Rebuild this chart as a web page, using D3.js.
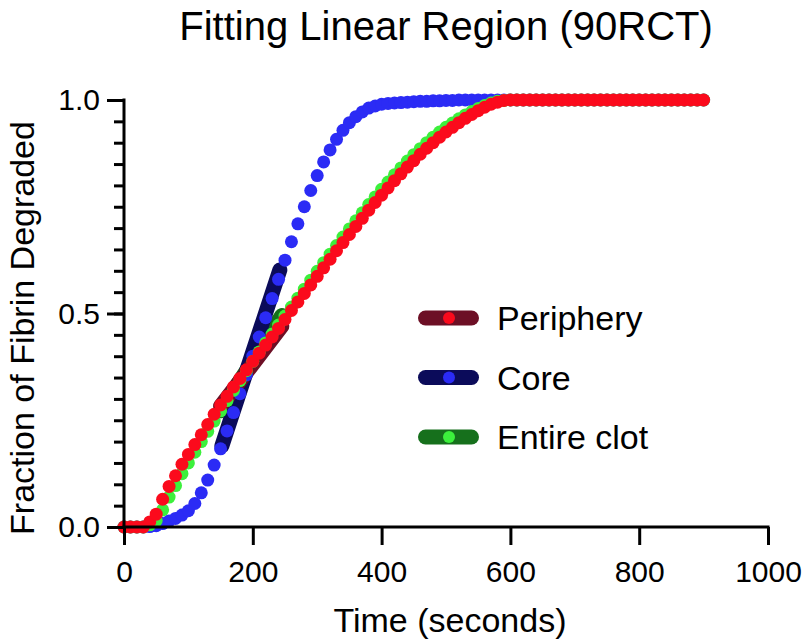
<!DOCTYPE html>
<html>
<head>
  <meta charset="utf-8">
  <script src="https://d3js.org/d3.v7.min.js"></script>
  <style>
    body { margin: 0; background: white; }
    text { font-family: "Liberation Sans", Arial, sans-serif; fill: black; }
  </style>
</head>
<body>
<svg id="chart" width="805" height="644"></svg>
<script>
// time points (s), every 10 s from 0 to 900
var times = d3.range(0, 901, 10);

// values, 0..600 s, then flat at 1
var periphery = [0, 0, 0, 0, 0.012, 0.03, 0.065, 0.095, 0.12, 0.147,
  0.17, 0.193, 0.216, 0.24, 0.264, 0.286, 0.306, 0.328, 0.348, 0.368,
  0.388, 0.407, 0.426, 0.445, 0.465, 0.486, 0.507, 0.527, 0.547, 0.567,
  0.587, 0.607, 0.627, 0.647, 0.666, 0.685, 0.704, 0.723, 0.742, 0.76,
  0.777, 0.794, 0.811, 0.827, 0.843, 0.858, 0.873, 0.887, 0.9, 0.913,
  0.925, 0.936, 0.947, 0.957, 0.966, 0.975, 0.983, 0.99, 0.995, 0.999, 1];

var core = [0, 0, 0, 0, 0.001, 0.003, 0.008, 0.014, 0.02, 0.028,
  0.038, 0.055, 0.08, 0.11, 0.145, 0.183, 0.225, 0.268, 0.312, 0.356,
  0.4, 0.445, 0.49, 0.535, 0.58, 0.625, 0.668, 0.71, 0.75, 0.788,
  0.823, 0.855, 0.883, 0.908, 0.929, 0.947, 0.961, 0.972, 0.981, 0.986,
  0.99, 0.992, 0.993, 0.994, 0.995, 0.996, 0.997, 0.997, 0.998, 0.998,
  0.999, 0.999, 1, 1, 1, 1, 1, 1, 1, 1, 1];

var entire = [0, 0, 0, 0, 0.005, 0.015, 0.04, 0.07, 0.097, 0.125,
  0.15, 0.175, 0.2, 0.224, 0.248, 0.272, 0.296, 0.32, 0.343, 0.366,
  0.388, 0.41, 0.431, 0.452, 0.473, 0.494, 0.515, 0.536, 0.557, 0.578,
  0.599, 0.619, 0.639, 0.659, 0.679, 0.698, 0.717, 0.736, 0.755, 0.773,
  0.791, 0.808, 0.825, 0.841, 0.857, 0.872, 0.886, 0.9, 0.913, 0.925,
  0.936, 0.946, 0.956, 0.965, 0.973, 0.98, 0.987, 0.993, 0.997, 0.999, 1];

// linear fits: [t0, t1] and [y0, y1]
var fitTimes = { periphery: [150, 245], core: [152, 242], entire: [150, 245] };
var fitValues = { periphery: [0.283, 0.47], core: [0.19, 0.602], entire: [0.272, 0.495] };

var seriesNames = ["Periphery", "Core", "Entire clot"];
var xTicks = [0, 200, 400, 600, 800, 1000];
var yTicks = [0, 0.5, 1.0];

function full(vals) {
  return times.map(function (t, i) { return { t: t, v: i < vals.length ? vals[i] : 1 }; });
}

var svg = d3.select("#chart");
var x = d3.scaleLinear().domain([0, 1000]).range([124, 768]);
var y = d3.scaleLinear().domain([0, 1]).range([527, 100]);

var dotCol = { periphery: "#fb0a1c", core: "#2b2bf5", entire: "#3cf03c" };
var fitCol = { periphery: "#6d0f25", core: "#0b0b5a", entire: "#16701c" };

// fit lines behind the dots
["entire", "core", "periphery"].forEach(function (k) {
  svg.append("line")
    .attr("x1", x(fitTimes[k][0])).attr("y1", y(fitValues[k][0]))
    .attr("x2", x(fitTimes[k][1])).attr("y2", y(fitValues[k][1]))
    .attr("stroke", fitCol[k]).attr("stroke-width", 15)
    .attr("stroke-linecap", "round");
});

var series = { core: full(core), entire: full(entire), periphery: full(periphery) };
["core", "entire", "periphery"].forEach(function (k) {
  svg.append("g").selectAll("circle").data(series[k]).enter().append("circle")
    .attr("cx", function (d) { return x(d.t); })
    .attr("cy", function (d) { return y(d.v); })
    .attr("r", 6.5)
    .attr("fill", dotCol[k]);
});

// axes
svg.append("g").attr("transform", "translate(0,527)")
  .call(d3.axisBottom(x).tickValues(xTicks).tickSize(18).tickPadding(16).tickFormat(d3.format("d")));
svg.append("g").attr("transform", "translate(124,0)")
  .call(d3.axisLeft(y).tickValues(yTicks).tickSize(17).tickPadding(7).tickFormat(d3.format(".1f")));
svg.append("g").attr("transform", "translate(124,0)")
  .call(d3.axisLeft(y).tickValues(d3.range(0, 21).map(function (i) { return i * 0.05; }))
    .tickSize(10).tickFormat(""));

svg.selectAll(".domain").remove();
svg.append("line").attr("x1", x(0)).attr("x2", x(1000)).attr("y1", y(0)).attr("y2", y(0))
  .attr("stroke", "black").attr("stroke-width", 3).attr("stroke-linecap", "square");
svg.append("line").attr("x1", x(0)).attr("x2", x(0)).attr("y1", y(0)).attr("y2", y(1))
  .attr("stroke", "black").attr("stroke-width", 3).attr("stroke-linecap", "square");
svg.selectAll(".tick line").attr("stroke-width", 3);
svg.selectAll(".tick text").style("font-size", "30px").style("font-family", "Liberation Sans, Arial, sans-serif");

// titles
svg.append("text").attr("x", 446).attr("y", 40).attr("text-anchor", "middle")
  .style("font-size", "40px").text("Fitting Linear Region (90RCT)");
svg.append("text").attr("x", 450).attr("y", 632).attr("text-anchor", "middle")
  .style("font-size", "34px").text("Time (seconds)");
svg.append("text").attr("transform", "translate(34,328) rotate(-90)").attr("text-anchor", "middle")
  .style("font-size", "34px").text("Fraction of Fibrin Degraded");

// legend
var legKeys = ["periphery", "core", "entire"];
var leg = svg.append("g");
legKeys.forEach(function (k, i) {
  var cy = 318 + i * 59.5;
  leg.append("line").attr("x1", 425.5).attr("x2", 471.5).attr("y1", cy).attr("y2", cy)
    .attr("stroke", fitCol[k]).attr("stroke-width", 15).attr("stroke-linecap", "round");
  leg.append("circle").attr("cx", 449).attr("cy", cy).attr("r", 6).attr("fill", dotCol[k]);
  leg.append("text").attr("x", 497).attr("y", cy + 12).style("font-size", "34px").text(seriesNames[i]);
});
</script>
</body>
</html>
